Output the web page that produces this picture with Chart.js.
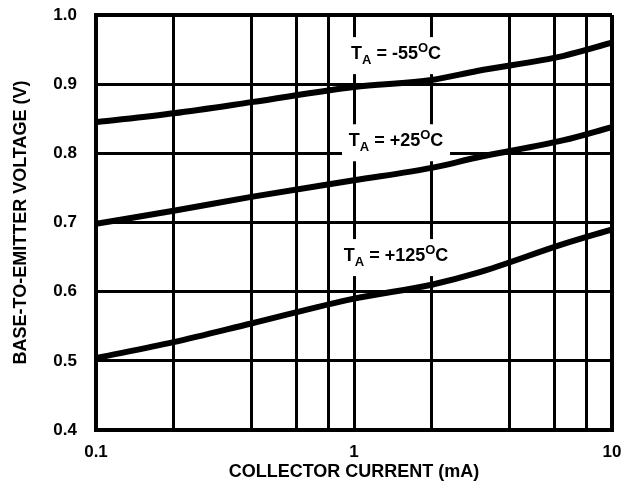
<!DOCTYPE html>
<html>
<head>
<meta charset="utf-8">
<script src="https://cdn.jsdelivr.net/npm/chart.js@4/dist/chart.umd.min.js"></script>
<style>
  html, body { margin: 0; padding: 0; background: #fff; }
  #wrap { width: 629px; height: 491px; }
</style>
</head>
<body>
<div id="wrap"><canvas id="vbeChart"></canvas></div>
<script>
// collector current (mA) and base-emitter voltage (V)
var current = [0.1, 0.2, 0.4, 1, 2, 3, 6.5, 10];
var vbeCold = [0.845, 0.858, 0.874, 0.896, 0.906, 0.919, 0.941, 0.960];
var vbeRoom = [0.698, 0.717, 0.737, 0.761, 0.779, 0.794, 0.819, 0.838];
var vbeHot = [0.504, 0.527, 0.554, 0.590, 0.610, 0.627, 0.669, 0.690];

var gridX = [0.1, 0.2, 0.4, 0.6, 0.8, 1, 2, 4, 6, 8, 10];
var labeledX = [0.1, 1, 10];

// curve labels: [temperature text, x (mA), y (V)]
var tempLabels = [
    ['-55', 1.455, 0.942],
    ['+25', 1.455, 0.816],
    ['+125', 1.455, 0.650]
];

var FONT = '"Liberation Sans", Arial, sans-serif';

function toPoints(ys) {
    return current.map(function (c, i) { return { x: c, y: ys[i] }; });
}

function curve(ys) {
    return {
        data: toPoints(ys),
        borderColor: '#000',
        borderWidth: 6,
        pointRadius: 0,
        cubicInterpolationMode: 'monotone',
        fill: false
    };
}

// white boxes with the T_A labels, drawn over the grid but under the curves
var tempLabelPlugin = {
    id: 'tempLabels',
    beforeDatasetsDraw: function (chart) {
        var ctx = chart.ctx;
        var xs = chart.scales.x, ys = chart.scales.y;
        ctx.save();
        tempLabels.forEach(function (l) {
            var cx = xs.getPixelForValue(l[1]);
            var cy = ys.getPixelForValue(l[2]);
            ctx.fillStyle = '#fff';
            ctx.fillRect(cx - 54, cy - 18, 108, 37);

            var big = 'bold 18px ' + FONT, small = 'bold 13px ' + FONT;
            var parts = [
                ['T', big, 0],
                ['A', small, 6],
                [' = ' + l[0], big, 0],
                ['O', small, -6],
                ['C', big, 0]
            ];
            var total = 0;
            parts.forEach(function (p) { ctx.font = p[1]; total += ctx.measureText(p[0]).width; });
            var x = cx - total / 2;
            ctx.fillStyle = '#000';
            ctx.textBaseline = 'middle';
            ctx.textAlign = 'left';
            parts.forEach(function (p) {
                ctx.font = p[1];
                ctx.fillText(p[0], x, cy - 1 + p[2]);
                x += ctx.measureText(p[0]).width;
            });
        });
        ctx.restore();
    }
};

var ctx = document.getElementById('vbeChart');
var chart = new Chart(ctx, {
    type: 'line',
    data: {
        datasets: [curve(vbeCold), curve(vbeRoom), curve(vbeHot)]
    },
    options: {
        responsive: true,
        maintainAspectRatio: false,
        animation: false,
        layout: { padding: { top: 15, right: 17, bottom: 0, left: 0 } },
        plugins: {
            legend: { display: false },
            tooltip: { enabled: false }
        },
        scales: {
            x: {
                type: 'logarithmic',
                min: 0.1,
                max: 10,
                afterBuildTicks: function (scale) {
                    scale.ticks = gridX.map(function (v) { return { value: v }; });
                },
                afterFit: function (scale) {
                    scale.height = 61;
                    scale.paddingLeft = 0;
                    scale.paddingRight = 0;
                },
                grid: {
                    color: '#000',
                    lineWidth: function (c) { return (c.index === gridX.length - 1) ? 4 : 3; },
                    drawTicks: false
                },
                border: { display: true, color: '#000', width: 4 },
                ticks: {
                    autoSkip: false,
                    maxRotation: 0,
                    padding: 12,
                    color: '#000',
                    font: { family: FONT, size: 17, weight: 'bold' },
                    callback: function (v) {
                        return labeledX.indexOf(v) >= 0 ? String(v) : '';
                    }
                },
                title: {
                    display: true,
                    text: 'COLLECTOR CURRENT (mA)',
                    color: '#000',
                    font: { family: FONT, size: 18, weight: 'bold' },
                    padding: { top: 0, bottom: 8 }
                }
            },
            y: {
                min: 0.4,
                max: 1.0,
                afterFit: function (scale) {
                    scale.width = 96;
                    scale.paddingTop = 0;
                    scale.paddingBottom = 0;
                },
                grid: {
                    color: '#000',
                    lineWidth: function (c) { return (c.tick && c.tick.value >= 0.999) ? 4 : 3; },
                    drawTicks: false
                },
                border: { display: true, color: '#000', width: 4 },
                ticks: {
                    stepSize: 0.1,
                    padding: 19,
                    color: '#000',
                    font: { family: FONT, size: 17, weight: 'bold' },
                    callback: function (v) { return v.toFixed(1); }
                },
                title: {
                    display: true,
                    text: 'BASE-TO-EMITTER VOLTAGE (V)',
                    color: '#000',
                    font: { family: FONT, size: 18, weight: 'bold' },
                    padding: { top: 10, bottom: 0 }
                }
            }
        }
    },
    plugins: [tempLabelPlugin]
});
</script>
</body>
</html>
